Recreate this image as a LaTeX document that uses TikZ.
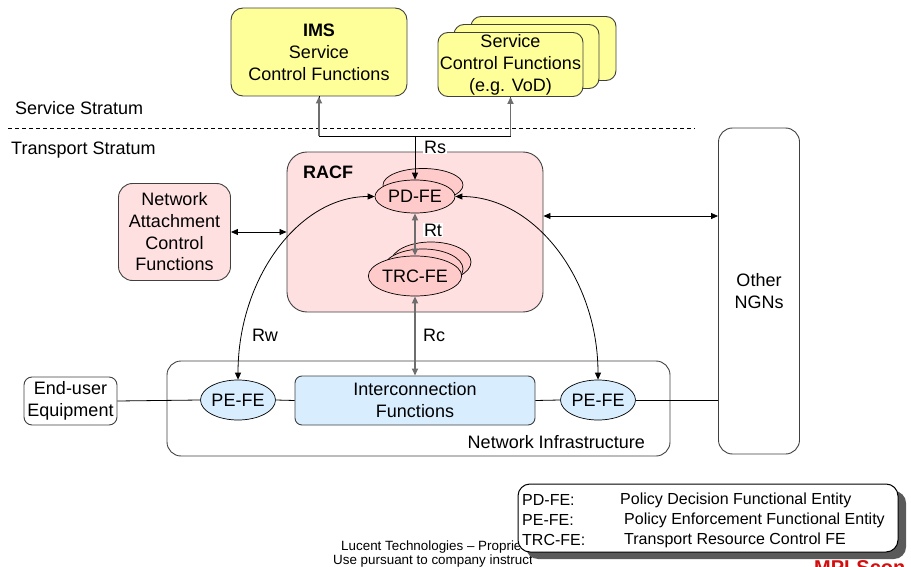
\documentclass[tikz,border=0pt]{standalone}
\usepackage{fontspec}
\setmainfont{Liberation Sans}
\usetikzlibrary{arrows.meta,shapes.geometric,calc}
\definecolor{yel}{HTML}{FFFF99}
\definecolor{pinkbg}{HTML}{FFE0E0}
\definecolor{pinkel}{HTML}{FFCACA}
\definecolor{bluebg}{HTML}{D8EEFF}
\definecolor{bord}{HTML}{404040}
\definecolor{gline}{HTML}{6E6E6E}
\definecolor{shadowc}{HTML}{5A5A5A}
\definecolor{logored}{HTML}{D01010}
\begin{document}
\begin{tikzpicture}[x=1pt,y=-1pt,
  font=\fontsize{18}{22}\selectfont,
  >={Triangle[length=7pt,width=6pt]},
  box/.style={draw=bord,line width=0.9pt,align=center,inner sep=0pt},
  ell/.style={ellipse,draw=black,line width=0.7pt,inner sep=0pt},
  conn/.style={line width=0.8pt},
  gconn/.style={draw=gline,line width=1.6pt},
  lbl/.style={inner sep=1pt},
  foot/.style={anchor=west,inner sep=0pt,font=\fontsize{13.4}{14}\selectfont},
  legtxt/.style={anchor=west,inner sep=0pt,font=\fontsize{16}{20}\selectfont}]
\useasboundingbox (0,0) rectangle (911,567);

% service stratum boxes
\node[box,rounded corners=12pt,fill=yel,minimum width=176pt,minimum height=88pt] (ims) at (319,52)
  {\textbf{IMS}\\Service\\Control Functions};
\node[box,rounded corners=10pt,fill=yel,minimum width=145pt,minimum height=64pt] (scfc) at (543.5,48.5) {};
\node[box,rounded corners=10pt,fill=yel,minimum width=145pt,minimum height=64pt] (scfb) at (526.5,56.5) {};
\node[box,rounded corners=10pt,fill=yel,minimum width=145pt,minimum height=64pt] (scf) at (510.5,64.5)
  {Service\\Control Functions\\(e.g. VoD)};

% strata
\draw[line width=0.7pt,dash pattern=on 4pt off 3pt] (8,128) -- (695,128);
\node[anchor=west,inner sep=0pt] (ss) at (15,108) {Service Stratum};
\node[anchor=west,inner sep=0pt] (ts) at (11,150) {Transport Stratum};

% RACF
\node[box,rounded corners=20pt,fill=pinkbg,minimum width=256pt,minimum height=160pt] (racf) at (415,232) {};
\node[anchor=west,inner sep=0pt,font=\fontsize{18}{22}\selectfont\bfseries] (racfl) at (303,172) {RACF};
\node[ell,fill=pinkel,minimum width=80pt,minimum height=33pt] (pdb) at (423,185) {};
\node[ell,fill=pinkel,minimum width=80pt,minimum height=33pt] (pd) at (415,196.5) {PD-FE};
\node[ell,fill=pinkel,minimum width=80pt,minimum height=40pt] (trcc) at (431,262) {};
\node[ell,fill=pinkel,minimum width=80pt,minimum height=40pt] (trcb) at (423,269) {};
\node[ell,fill=pinkel,minimum width=80pt,minimum height=40pt] (trc) at (415,276) {TRC-FE};

% NAC
\node[box,rounded corners=14pt,fill=pinkbg,minimum width=112pt,minimum height=97pt,
  font=\fontsize{18}{21.7}\selectfont] (nac) at (174.5,232)
  {Network\\Attachment\\Control\\Functions};

% Other NGNs
\node[box,rounded corners=14pt,fill=white,minimum width=81pt,minimum height=326pt] (other) at (759,291)
  {Other\\NGNs};

% Network infrastructure
\node[box,rounded corners=14pt,minimum width=503pt,minimum height=95pt] (ni) at (418.5,408.5) {};
\node[anchor=east,inner sep=0pt] (nil) at (645,442) {Network Infrastructure};
\node[box,rounded corners=8pt,fill=white,minimum width=93pt,minimum height=48pt] (eu) at (70.5,401)
  {End-user\\Equipment};
\node[ell,fill=bluebg,minimum width=74pt,minimum height=40pt] (pe1) at (238,400) {PE-FE};
\node[box,rounded corners=7pt,fill=bluebg,minimum width=240pt,minimum height=49pt] (ic) at (415,400.5)
  {Interconnection\\Functions};
\node[ell,fill=bluebg,minimum width=74pt,minimum height=40pt] (pe2) at (598,400) {PE-FE};

% connectors
\coordinate (rsj) at (415,136);
\draw[conn,->] (rsj) -- (pd.north);
\draw[conn] (rsj) -| (ims.south);
\draw[conn] (rsj) -| (scf.south);
\draw[gconn,->] (ims.south |- rsj) -- (ims.south);
\draw[gconn,->] (scf.south |- rsj) -- (scf.south);
\draw[gconn,<->] (pd.south) -- (trc.north);
\draw[gconn,<->] (trc.south) -- (ic.north);
\draw[conn,<->] (nac.east) -- (nac.east -| racf.west);
\coordinate (ro) at ([yshift=16pt]racf.east);
\draw[conn,<->] (ro) -- (ro -| other.west);
\draw[conn,<->] (pe1.north) .. controls +(0,-101) and +(-76,0) .. (pd.west);
\draw[conn,<->] (pe2.north) .. controls +(0,-101) and +(79,0) .. (pd.east);
\draw[conn] (eu.east) -- (pe1.west);
\draw[conn] (pe1.east) -- (ic.west);
\draw[conn] (ic.east) -- (pe2.west);
\draw[conn] (pe2.east) -- (pe2.east -| other.west);

% labels
\node[lbl,fill=white] (rsl) at (435,147) {Rs};
\node[lbl,fill=white] (rtl) at (433,230) {Rt};
\node[lbl] (rcl) at (434,335) {Rc};
\node[lbl] (rwl) at (265,335) {Rw};

% footer
\begin{scope}
\clip (0,0) rectangle (531,567);
\node[foot] (f1) at (341,547) {Lucent Technologies – Proprietary};
\node[foot] (f2) at (333,561) {Use pursuant to company instructions};
\end{scope}
\begin{scope}
\clip (0,0) rectangle (911,567);
\node[anchor=north west,inner sep=0pt,text=logored,font=\fontsize{20}{20}\selectfont\bfseries] (logo) at (814,560) {MPLScon};
\end{scope}

% legend
\node[fill=shadowc,rounded corners=12pt,minimum width=380pt,minimum height=68pt,inner sep=0pt] (legs) at (716,525) {};
\node[draw=black,line width=1pt,fill=white,rounded corners=12pt,minimum width=380pt,minimum height=68pt,inner sep=0pt] (leg) at (708,518) {};
\node[legtxt] (l1a) at (522,500) {PD-FE:};
\node[legtxt] (l1b) at (620,500) {Policy Decision Functional Entity};
\node[legtxt] (l2a) at (522,520) {PE-FE:};
\node[legtxt] (l2b) at (624,520) {Policy Enforcement Functional Entity};
\node[legtxt] (l3a) at (522,540) {TRC-FE:};
\node[legtxt] (l3b) at (624,540) {Transport Resource Control FE};
\end{tikzpicture}
\end{document}
